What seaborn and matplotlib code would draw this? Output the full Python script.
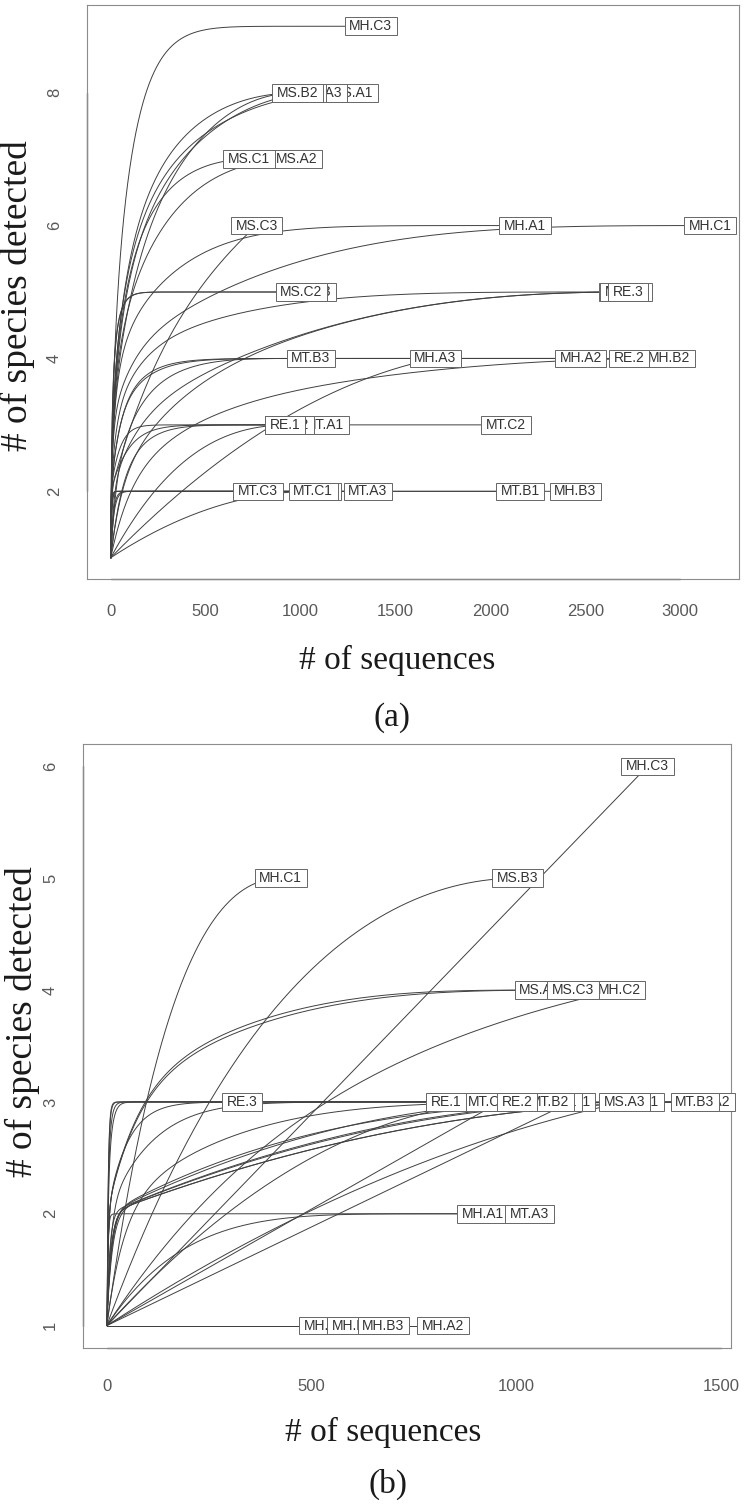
import numpy as np
import pandas as pd
import matplotlib
matplotlib.use("Agg")
import matplotlib.pyplot as plt
from matplotlib.path import Path
import seaborn as sns

# Panel (a): reads per species in each sample (list order = label drawing order)
samples_a = ["MS.A1", "MS.A3", "MS.B1", "MS.B2", "MS.A2", "MS.C1", "MH.C3",
             "MS.C3", "MH.A1", "MH.C1", "MS.B3", "MS.C2", "MH.B1", "MH.C2", "RE.3",
             "MT.B3", "MH.A3", "MH.A2", "MH.B2", "RE.2",
             "MT.A1", "MT.A2", "RE.1", "MT.C2",
             "MT.B2", "MT.C3", "MT.C1", "MT.A3", "MT.B1", "MH.B3"]
counts_a = [
    [800, 320, 100, 30, 12, 8, 3, 2],
    [700, 300, 70, 20, 10, 5, 2, 2],
    [600, 280, 80, 20, 10, 6, 3, 2],
    [650, 250, 60, 12, 6, 3, 2, 2],
    [600, 280, 70, 20, 6, 3, 2],
    [450, 200, 50, 15, 7, 4, 2],
    [880, 300, 90, 40, 20, 12, 10, 10, 8],
    [560, 200, 4, 2, 1, 1],
    [1400, 600, 125, 45, 8, 5],
    [2000, 900, 220, 30, 4, 3],
    [550, 300, 120, 55, 26],
    [500, 300, 120, 60, 24],
    [2500, 180, 20, 3, 2],
    [2650, 50, 10, 3, 2],
    [2000, 600, 100, 20, 4],
    [1000, 40, 10, 4],
    [1706, 2, 2, 1],
    [1800, 600, 60, 16],
    [2900, 30, 8, 2],
    [2000, 650, 60, 20],
    [1100, 20, 8],
    [938, 3, 2],
    [600, 300, 19],
    [1600, 460, 22],
    [900, 184],
    [600, 176],
    [1064, 2],
    [1100, 254],
    [2000, 156],
    [2300, 148],
]

# Panel (b)
samples_b = ["MH.A3", "MH.B2", "MH.B1", "MH.B3", "MH.A2",
             "MH.A1", "MT.A3",
             "RE.3", "MT.C3", "MT.C2", "MT.C1", "RE.1", "MS.C2", "MT.A1", "MS.B1",
             "MT.B2", "RE.2", "MT.B1", "MS.C1", "MS.A3", "MT.A2", "MS.B2", "MS.A2", "MT.B3",
             "MS.A1", "MH.C2", "MS.C3",
             "MH.C1", "MS.B3", "MH.C3"]
counts_b = [
    [532], [602], [676], [676], [821],
    [913, 5], [700, 333],
    [150, 100, 81],
    [958, 1, 1],
    [996, 2, 2],
    [500, 300, 132],
    [400, 250, 179],
    [1000, 110, 10],
    [1132, 1, 1],
    [1000, 98, 2],
    [800, 260, 21],
    [600, 300, 103],
    [1100, 168, 2],
    [1200, 96, 2],
    [1262, 2, 1],
    [1300, 138, 2],
    [1420, 35, 5],
    [1350, 120, 3],
    [1300, 135, 2],
    [740, 300, 15, 3],
    [1245, 4, 2, 1],
    [800, 320, 16, 3],
    [414, 4, 3, 2, 2],
    [993, 4, 2, 2, 2],
    [1316, 1, 1, 1, 1, 1],
]

xticks_a = [0, 500, 1000, 1500, 2000, 2500, 3000]
yticks_a = [2, 4, 6, 8]
xticks_b = [0, 500, 1000, 1500]
yticks_b = [1, 2, 3, 4, 5, 6]


def rarefy(counts):
    # expected number of species in random subsamples of 1..N reads
    counts = np.asarray(counts, dtype=float)
    total = int(counts.sum())
    j = np.arange(total)
    expected = np.zeros(total)
    for c in counts:
        frac = np.clip((total - c - j) / (total - j), 0, None)
        expected += 1 - np.cumprod(frac)
    return np.arange(1, total + 1), expected


def curves(samples, counts):
    frames = []
    for name, cnt in zip(samples, counts):
        n, s = rarefy(cnt)
        frames.append(pd.DataFrame({"sample": name, "reads": n, "species": s}))
    return pd.concat(frames, ignore_index=True)


def label_box(x0, y0, width, height, mutation_size):
    # wide, flat box like R's ordilabel
    px, py = 0.33 * mutation_size, 0.13 * mutation_size
    x1, y1 = x0 + width + px, y0 + height + py
    x0, y0 = x0 - px, y0 - py
    return Path([(x0, y0), (x1, y0), (x1, y1), (x0, y1), (x0, y0)],
                closed=True)


def draw_panel(ax, samples, counts, xticks, yticks, xlim, ylim, tickpad):
    df = curves(samples, counts)
    sns.lineplot(data=df, x="reads", y="species", units="sample", estimator=None,
                 color="0.25", lw=0.7, ax=ax, legend=False)
    for name, cnt in zip(samples, counts):
        ax.text(sum(cnt), len(cnt), name, ha="center", va="center", fontsize=10,
                color="0.2", family="Liberation Sans", zorder=5, clip_on=False,
                bbox=dict(boxstyle=label_box, fc="white", ec="0.4", lw=0.7))
    ax.set_xlim(xlim)
    ax.set_ylim(ylim)
    ax.set_xticks(xticks)
    ax.set_yticks(yticks)
    ax.set_xlabel("")
    ax.set_ylabel("")
    for sp in ax.spines.values():
        sp.set_color("0.55")
        sp.set_linewidth(0.8)
    ax.tick_params(direction="out", length=7, width=0.8, color="0.5",
                   labelcolor="0.35", labelsize=12, pad=tickpad)
    ax.tick_params(axis="y", labelrotation=90, pad=11)
    for lab in ax.get_yticklabels():
        lab.set_va("center")
    # R-style axis lines spanning the tick range
    ax.plot([xticks[0], xticks[-1]], [0, 0], transform=ax.get_xaxis_transform(),
            color="0.4", lw=1.0, clip_on=False)
    ax.plot([0, 0], [yticks[0], yticks[-1]], transform=ax.get_yaxis_transform(),
            color="0.4", lw=1.0, clip_on=False)


sns.set_style("white")
plt.rcParams["font.family"] = ["Liberation Sans", "DejaVu Sans"]

W, H = 745, 1504
fig = plt.figure(figsize=(W / 100, H / 100), dpi=100)


def px_axes(left, top, right, bottom):
    return fig.add_axes([left / W, 1 - bottom / H, (right - left) / W, (bottom - top) / H])


ax_a = px_axes(87, 5, 739, 579)
draw_panel(ax_a, samples_a, counts_a, xticks_a, yticks_a, (-125, 3310), (0.68, 9.32), 11)

ax_b = px_axes(83, 744, 731, 1348)
draw_panel(ax_b, samples_b, counts_b, xticks_b, yticks_b, (-58, 1525), (0.8, 6.2), 15)

serif = "Liberation Serif"
fig.text(17 / W, 1 - 296 / H, "# of species detected", rotation=90, ha="center", va="center",
         fontsize=27, family=serif, color="0.1")
fig.text(397 / W, 1 - 660 / H, "# of sequences", ha="center", va="center",
         fontsize=24, family=serif, color="0.1")
fig.text(392 / W, 1 - 718 / H, "(a)", ha="center", va="center", fontsize=24, family=serif, color="0.1")

fig.text(22 / W, 1 - 1022 / H, "# of species detected", rotation=90, ha="center", va="center",
         fontsize=27, family=serif, color="0.1")
fig.text(383 / W, 1 - 1432 / H, "# of sequences", ha="center", va="center",
         fontsize=24, family=serif, color="0.1")
fig.text(388 / W, 1 - 1484 / H, "(b)", ha="center", va="center", fontsize=24, family=serif, color="0.1")

fig.savefig("out.png", dpi=100)
